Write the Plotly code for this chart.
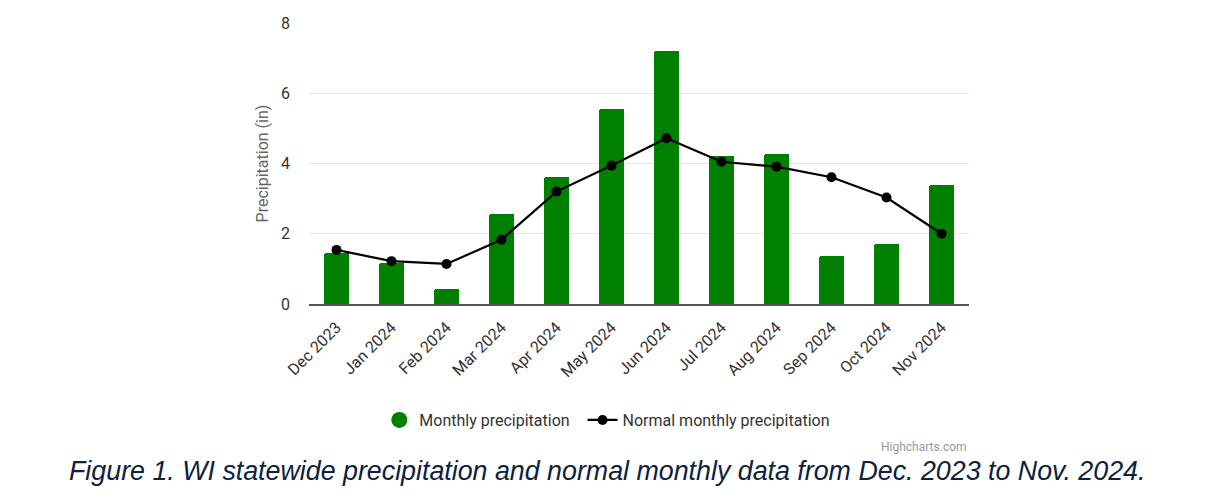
import plotly.graph_objects as go

months = ["Dec 2023", "Jan 2024", "Feb 2024", "Mar 2024", "Apr 2024", "May 2024",
          "Jun 2024", "Jul 2024", "Aug 2024", "Sep 2024", "Oct 2024", "Nov 2024"]
monthly_precip = [1.45, 1.16, 0.42, 2.55, 3.62, 5.56, 7.19, 4.22, 4.26, 1.38, 1.71, 3.40]
normal_precip = [1.54, 1.22, 1.14, 1.83, 3.20, 3.94, 4.72, 4.05, 3.91, 3.61, 3.03, 2.00]
y_ticks = [0, 2, 4, 6, 8]

GREEN = "#008000"
FONT = "Roboto"

fig = go.Figure()
fig.add_trace(go.Bar(
    x=months, y=monthly_precip, name="Monthly precipitation",
    marker=dict(color=GREEN, line=dict(width=0), cornerradius=2), width=0.47,
    showlegend=False,
))
# legend proxy so the legend symbol is a circle (as in Highcharts)
fig.add_trace(go.Scatter(
    x=[None], y=[None], mode="markers",
    name="Monthly precipitation&nbsp;&nbsp;",
    marker=dict(color=GREEN, size=16, symbol="circle"),
))
fig.add_trace(go.Scatter(
    x=months, y=normal_precip, name="Normal monthly precipitation",
    mode="lines+markers",
    line=dict(color="#000000", width=2.2),
    marker=dict(color="#000000", size=10),
))

fig.update_layout(
    width=1207, height=500,
    margin=dict(l=309, r=238, t=23, b=196),
    paper_bgcolor="white", plot_bgcolor="white",
    font=dict(family=FONT, color="#333333", size=16),
    bargap=0.0,
    legend=dict(
        orientation="h", x=0.452, xanchor="center", y=-0.413, yanchor="middle",
        font=dict(size=16, color="#333333"), itemwidth=30, traceorder="normal",
        bgcolor="rgba(0,0,0,0)",
    ),
    xaxis=dict(
        type="category", tickangle=-45, tickfont=dict(size=16, color="#333333"),
        showgrid=False, showline=True, linecolor="#555555", linewidth=1.5,
        ticks="", range=[-0.5, 11.5], ticklabelstandoff=6,
    ),
    yaxis=dict(
        range=[0, 8], tickvals=y_ticks, ticktext=[str(v) for v in y_ticks],
        showgrid=True, gridcolor="#e6e6e6", gridwidth=1,
        zeroline=False, showline=False, ticks="", ticklabelstandoff=18,
        tickfont=dict(size=16, color="#333333"),
        title=dict(text="Precipitation (in)", font=dict(size=16, color="#666666"), standoff=8),
    ),
    annotations=[
        dict(text="Highcharts.com", xref="paper", yref="paper", x=1.0, y=-0.509,
             xanchor="right", yanchor="middle", showarrow=False,
             font=dict(size=12, color="#999999", family=FONT)),
        dict(text="<i>Figure 1. WI statewide precipitation and normal monthly data from Dec. 2023 to Nov. 2024.</i>",
             xref="paper", yref="paper", x=(607 - 309) / 660, y=(304 - 471) / 281,
             xanchor="center", yanchor="middle", showarrow=False,
             font=dict(size=26.8, color="#0d2240", family="Liberation Sans")),
    ],
)

fig.write_html("out.html")
